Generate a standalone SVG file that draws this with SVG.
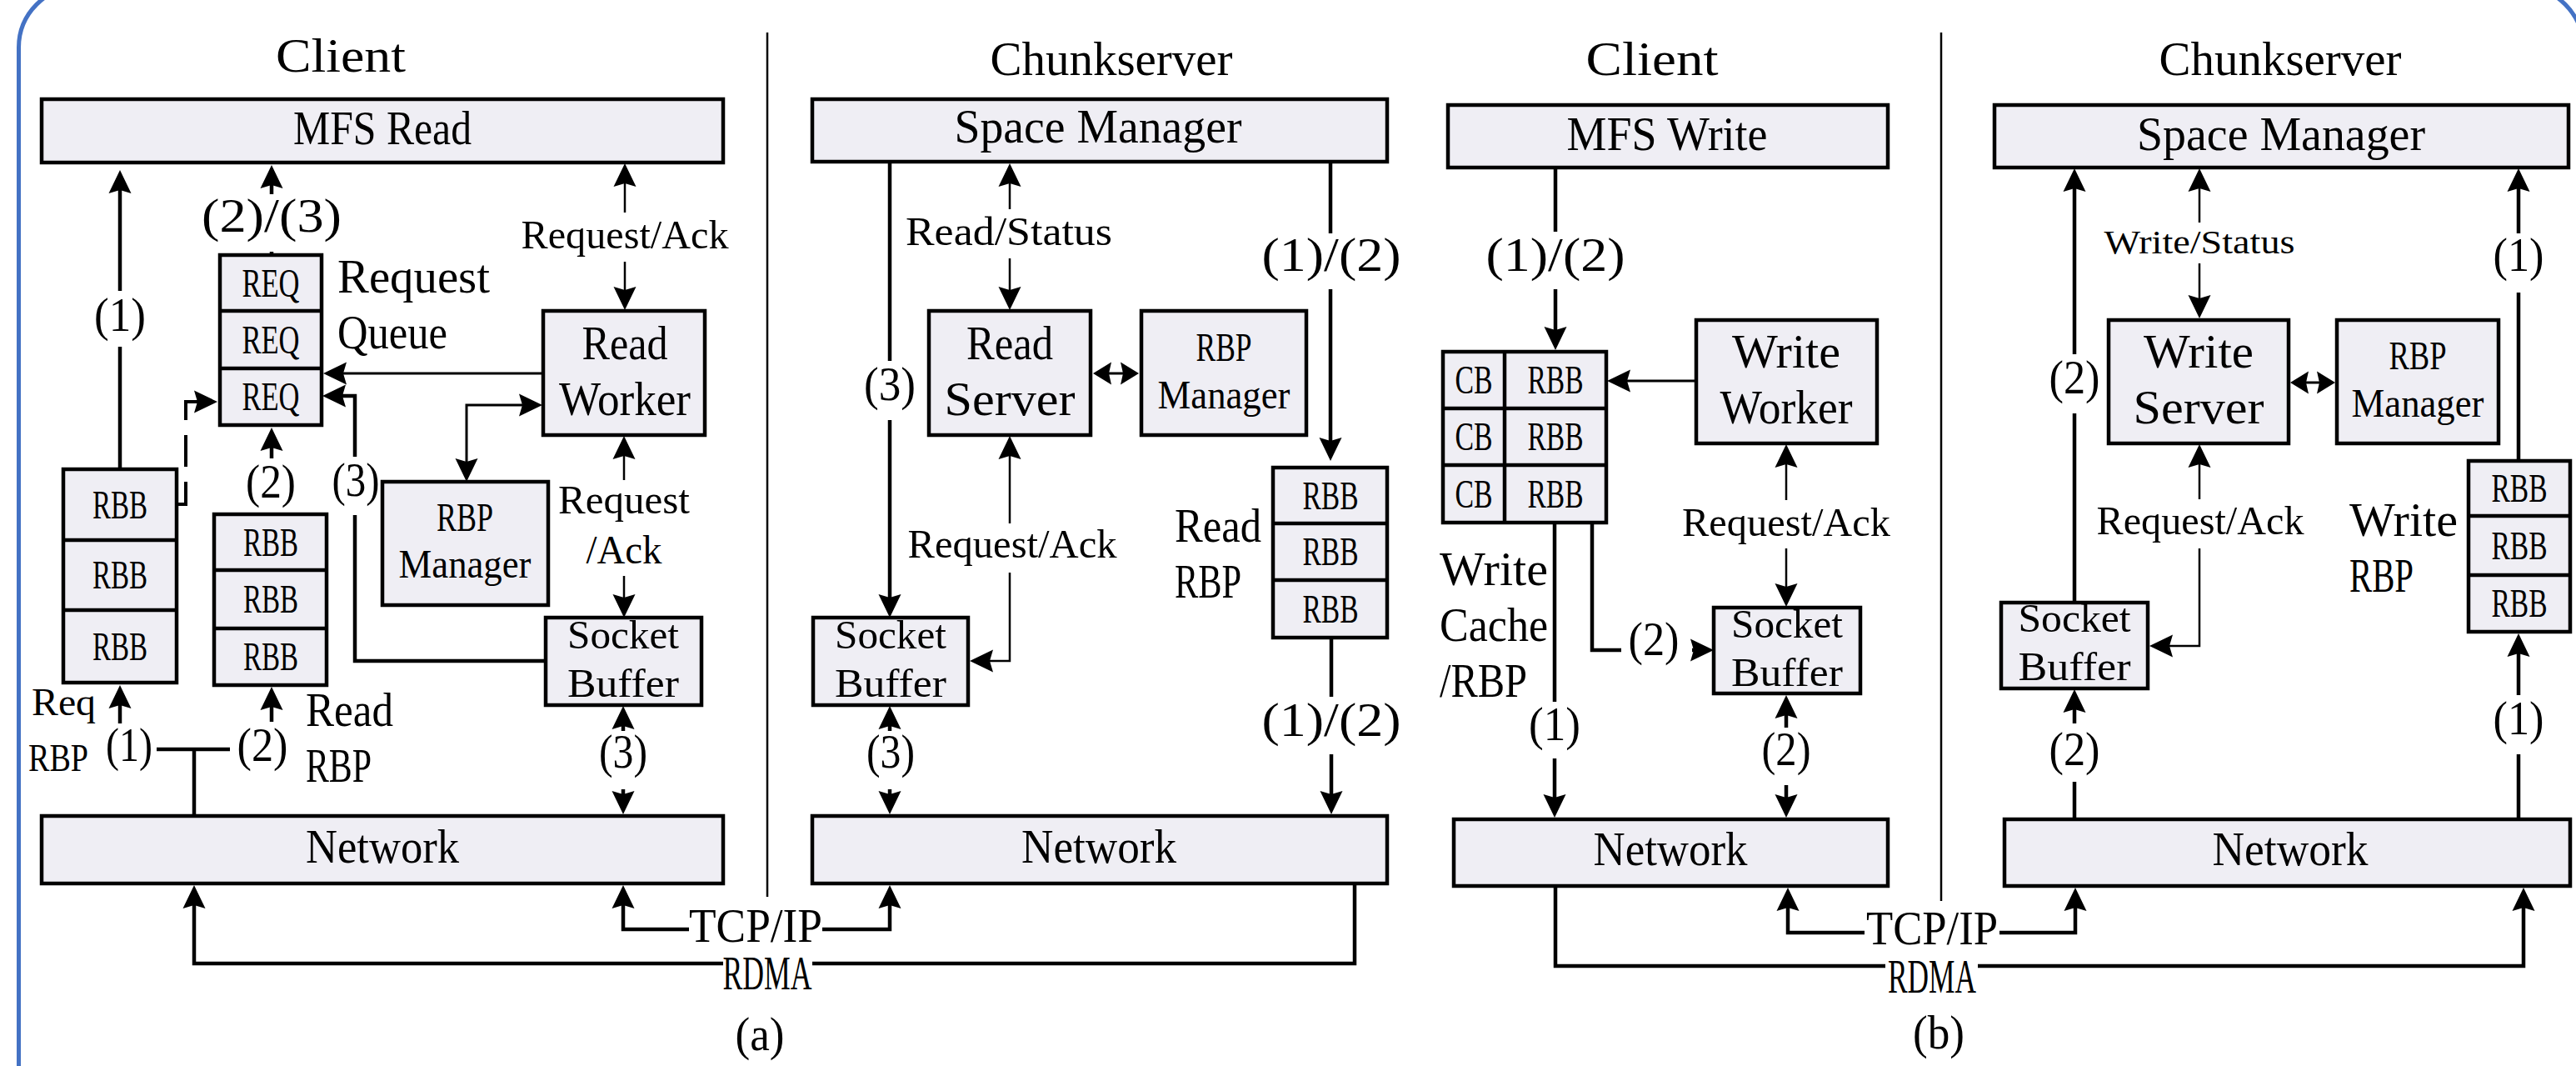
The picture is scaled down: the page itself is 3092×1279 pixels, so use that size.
<svg xmlns="http://www.w3.org/2000/svg" width="3092" height="1279" viewBox="0 0 3092 1279">
  <defs>
    <marker id="ah" viewBox="0 -15 30 30" markerWidth="30" markerHeight="30" refX="18" refY="0" orient="auto-start-reverse" markerUnits="userSpaceOnUse">
      <path d="M28,0 L0,-13.5 L4,0 L0,13.5 Z" fill="#000"/>
    </marker>
    <marker id="ahs" viewBox="0 -15 30 30" markerWidth="30" markerHeight="30" refX="12" refY="0" orient="auto-start-reverse" markerUnits="userSpaceOnUse">
      <path d="M22,0 L0,-13.5 L3,0 L0,13.5 Z" fill="#000"/>
    </marker>
    <style>
      text { font-family: "Liberation Serif", "Times New Roman", serif; fill: #000; }
      .c { text-anchor: middle; }
      .f56 { font-size: 56px; }
      .f48 { font-size: 48px; }
      .f46 { font-size: 46px; }
      .f40 { font-size: 40px; }
      .box { fill: #EFEEF4; stroke: #000; stroke-width: 4.5; stroke-linejoin: miter; }
      .div { stroke: #000; stroke-width: 4.5; }
      .thick { fill: none; stroke: #000; stroke-width: 4.5; }
      .thin { fill: none; stroke: #000; stroke-width: 2.5; }
      .mid { fill: none; stroke: #000; stroke-width: 3; }
      .dash { fill: none; stroke: #000; stroke-width: 4; stroke-dasharray: 38 18; }
      .sep { fill: none; stroke: #000; stroke-width: 2.5; }
      .arr { marker-end: url(#ah); }
      .arr2 { marker-start: url(#ah); marker-end: url(#ah); }
      .arr2s { marker-start: url(#ahs); marker-end: url(#ahs); }
      .arrs { marker-start: url(#ah); }
    </style>
  </defs>

  <rect width="3092" height="1279" fill="#FFFFFF"/>
  <!-- outer frame -->
  <rect x="22.5" y="-16" width="3078" height="1400" rx="73" fill="none" stroke="#4472C4" stroke-width="5"/>

  <!-- panel separators -->
  <path class="sep" d="M921,39 V1076"/>
  <path class="sep" d="M2330,39 V1081"/>

  <!-- ===== (a) read path: client side ===== -->
  <g id="title-client-a"><text class="c f56" x="409" y="86" textLength="156" lengthAdjust="spacingAndGlyphs">Client</text></g>

  <g id="mfs-read">
    <rect class="box" x="50" y="119" width="818" height="76"/>
    <text class="c f56" x="459" y="173" textLength="214" lengthAdjust="spacingAndGlyphs">MFS Read</text>
  </g>

  <g id="request-queue">
    <rect class="box" x="264" y="306" width="122" height="204"/>
    <path class="div" d="M264,373 H386 M264,442 H386"/>
    <text class="c f48" x="325" y="356" textLength="69" lengthAdjust="spacingAndGlyphs">REQ</text>
    <text class="c f48" x="325" y="424" textLength="69" lengthAdjust="spacingAndGlyphs">REQ</text>
    <text class="c f48" x="325" y="492" textLength="69" lengthAdjust="spacingAndGlyphs">REQ</text>
    <text class="f56" x="405" y="351" textLength="183" lengthAdjust="spacingAndGlyphs">Request</text>
    <text class="f56" x="405" y="418" textLength="132" lengthAdjust="spacingAndGlyphs">Queue</text>
  </g>

  <g id="read-worker">
    <rect class="box" x="652" y="373" width="194" height="149"/>
    <text class="c f56" x="750" y="431" textLength="103" lengthAdjust="spacingAndGlyphs">Read</text>
    <text class="c f56" x="750" y="498" textLength="158" lengthAdjust="spacingAndGlyphs">Worker</text>
  </g>

  <g id="rbp-manager-client">
    <rect class="box" x="459" y="578" width="199" height="148"/>
    <text class="c f48" x="558" y="637" textLength="68" lengthAdjust="spacingAndGlyphs">RBP</text>
    <text class="c f48" x="558" y="693" textLength="159" lengthAdjust="spacingAndGlyphs">Manager</text>
  </g>

  <g id="socket-buffer-client-a">
    <rect class="box" x="655" y="741" width="187" height="105"/>
    <text class="c f48" x="748" y="778" textLength="134" lengthAdjust="spacingAndGlyphs">Socket</text>
    <text class="c f48" x="748" y="836" textLength="134" lengthAdjust="spacingAndGlyphs">Buffer</text>
  </g>

  <g id="req-rbp">
    <rect class="box" x="76" y="563" width="136" height="256"/>
    <path class="div" d="M76,648 H212 M76,732 H212"/>
    <text class="c f48" x="144" y="622" textLength="66" lengthAdjust="spacingAndGlyphs">RBB</text>
    <text class="c f48" x="144" y="706" textLength="66" lengthAdjust="spacingAndGlyphs">RBB</text>
    <text class="c f48" x="144" y="792" textLength="66" lengthAdjust="spacingAndGlyphs">RBB</text>
    <text class="f46" x="38" y="858" textLength="77" lengthAdjust="spacingAndGlyphs">Req</text>
    <text class="f46" x="34" y="925" textLength="72" lengthAdjust="spacingAndGlyphs">RBP</text>
  </g>

  <g id="read-rbp-client">
    <rect class="box" x="257" y="617" width="135" height="205"/>
    <path class="div" d="M257,684 H392 M257,754 H392"/>
    <text class="c f48" x="325" y="667" textLength="66" lengthAdjust="spacingAndGlyphs">RBB</text>
    <text class="c f48" x="325" y="735" textLength="66" lengthAdjust="spacingAndGlyphs">RBB</text>
    <text class="c f48" x="325" y="804" textLength="66" lengthAdjust="spacingAndGlyphs">RBB</text>
    <text class="f56" x="367" y="871" textLength="105" lengthAdjust="spacingAndGlyphs">Read</text>
    <text class="f56" x="367" y="938" textLength="79" lengthAdjust="spacingAndGlyphs">RBP</text>
  </g>

  <g id="network-client-a">
    <rect class="box" x="50" y="979" width="818" height="81"/>
    <text class="c f56" x="459" y="1035" textLength="184" lengthAdjust="spacingAndGlyphs">Network</text>
  </g>

  <!-- ===== (a) read path: chunkserver side ===== -->
  <g id="title-chunkserver-a"><text class="c f56" x="1334" y="90" textLength="291" lengthAdjust="spacingAndGlyphs">Chunkserver</text></g>

  <g id="space-manager-a">
    <rect class="box" x="975" y="119" width="690" height="75"/>
    <text class="c f56" x="1318" y="171" textLength="345" lengthAdjust="spacingAndGlyphs">Space Manager</text>
  </g>

  <g id="read-server">
    <rect class="box" x="1115" y="373" width="194" height="149"/>
    <text class="c f56" x="1212" y="431" textLength="104" lengthAdjust="spacingAndGlyphs">Read</text>
    <text class="c f56" x="1212" y="498" textLength="157" lengthAdjust="spacingAndGlyphs">Server</text>
  </g>

  <g id="rbp-manager-chunk-a">
    <rect class="box" x="1370" y="373" width="198" height="149"/>
    <text class="c f48" x="1469" y="433" textLength="67" lengthAdjust="spacingAndGlyphs">RBP</text>
    <text class="c f48" x="1469" y="490" textLength="159" lengthAdjust="spacingAndGlyphs">Manager</text>
  </g>

  <g id="read-rbp-chunk">
    <rect class="box" x="1528" y="561" width="137" height="204"/>
    <path class="div" d="M1528,628 H1665 M1528,696 H1665"/>
    <text class="c f48" x="1597" y="611" textLength="67" lengthAdjust="spacingAndGlyphs">RBB</text>
    <text class="c f48" x="1597" y="678" textLength="67" lengthAdjust="spacingAndGlyphs">RBB</text>
    <text class="c f48" x="1597" y="747" textLength="67" lengthAdjust="spacingAndGlyphs">RBB</text>
    <text class="f56" x="1410" y="650" textLength="104" lengthAdjust="spacingAndGlyphs">Read</text>
    <text class="f56" x="1410" y="717" textLength="80" lengthAdjust="spacingAndGlyphs">RBP</text>
  </g>

  <g id="socket-buffer-chunk-a">
    <rect class="box" x="976" y="741" width="186" height="105"/>
    <text class="c f48" x="1069" y="778" textLength="134" lengthAdjust="spacingAndGlyphs">Socket</text>
    <text class="c f48" x="1069" y="836" textLength="134" lengthAdjust="spacingAndGlyphs">Buffer</text>
  </g>

  <g id="network-chunk-a">
    <rect class="box" x="975" y="979" width="690" height="81"/>
    <text class="c f56" x="1319" y="1035" textLength="186" lengthAdjust="spacingAndGlyphs">Network</text>
  </g>

  <!-- ===== (b) write path: client side ===== -->
  <g id="title-client-b"><text class="c f56" x="1983" y="90" textLength="159" lengthAdjust="spacingAndGlyphs">Client</text></g>

  <g id="mfs-write">
    <rect class="box" x="1738" y="126" width="528" height="75"/>
    <text class="c f56" x="2001" y="180" textLength="241" lengthAdjust="spacingAndGlyphs">MFS Write</text>
  </g>

  <g id="write-cache">
    <rect class="box" x="1732" y="422" width="196" height="205"/>
    <path class="div" d="M1806,422 V627 M1732,490 H1928 M1732,558 H1928"/>
    <text class="c f48" x="1769" y="472" textLength="45" lengthAdjust="spacingAndGlyphs">CB</text>
    <text class="c f48" x="1769" y="540" textLength="45" lengthAdjust="spacingAndGlyphs">CB</text>
    <text class="c f48" x="1769" y="609" textLength="45" lengthAdjust="spacingAndGlyphs">CB</text>
    <text class="c f48" x="1867" y="472" textLength="67" lengthAdjust="spacingAndGlyphs">RBB</text>
    <text class="c f48" x="1867" y="540" textLength="67" lengthAdjust="spacingAndGlyphs">RBB</text>
    <text class="c f48" x="1867" y="609" textLength="67" lengthAdjust="spacingAndGlyphs">RBB</text>
    <text class="f56" x="1728" y="702" textLength="130" lengthAdjust="spacingAndGlyphs">Write</text>
    <text class="f56" x="1728" y="769" textLength="130" lengthAdjust="spacingAndGlyphs">Cache</text>
    <text class="f56" x="1728" y="836" textLength="105" lengthAdjust="spacingAndGlyphs">/RBP</text>
  </g>

  <g id="write-worker">
    <rect class="box" x="2036" y="384" width="217" height="148"/>
    <text class="c f56" x="2144" y="441" textLength="130" lengthAdjust="spacingAndGlyphs">Write</text>
    <text class="c f56" x="2144" y="508" textLength="159" lengthAdjust="spacingAndGlyphs">Worker</text>
  </g>

  <g id="socket-buffer-client-b">
    <rect class="box" x="2057" y="729" width="176" height="103"/>
    <text class="c f48" x="2145" y="765" textLength="134" lengthAdjust="spacingAndGlyphs">Socket</text>
    <text class="c f48" x="2145" y="823" textLength="134" lengthAdjust="spacingAndGlyphs">Buffer</text>
  </g>

  <g id="network-client-b">
    <rect class="box" x="1745" y="983" width="521" height="80"/>
    <text class="c f56" x="2005" y="1038" textLength="185" lengthAdjust="spacingAndGlyphs">Network</text>
  </g>

  <!-- ===== (b) write path: chunkserver side ===== -->
  <g id="title-chunkserver-b"><text class="c f56" x="2737" y="90" textLength="291" lengthAdjust="spacingAndGlyphs">Chunkserver</text></g>

  <g id="space-manager-b">
    <rect class="box" x="2394" y="126" width="689" height="75"/>
    <text class="c f56" x="2738" y="180" textLength="346" lengthAdjust="spacingAndGlyphs">Space Manager</text>
  </g>

  <g id="write-server">
    <rect class="box" x="2531" y="384" width="216" height="148"/>
    <text class="c f56" x="2639" y="441" textLength="132" lengthAdjust="spacingAndGlyphs">Write</text>
    <text class="c f56" x="2639" y="508" textLength="157" lengthAdjust="spacingAndGlyphs">Server</text>
  </g>

  <g id="rbp-manager-chunk-b">
    <rect class="box" x="2805" y="384" width="194" height="148"/>
    <text class="c f48" x="2902" y="443" textLength="69" lengthAdjust="spacingAndGlyphs">RBP</text>
    <text class="c f48" x="2902" y="500" textLength="159" lengthAdjust="spacingAndGlyphs">Manager</text>
  </g>

  <g id="write-rbp">
    <rect class="box" x="2963" y="553" width="122" height="205"/>
    <path class="div" d="M2963,619 H3085 M2963,690 H3085"/>
    <text class="c f48" x="3024" y="602" textLength="67" lengthAdjust="spacingAndGlyphs">RBB</text>
    <text class="c f48" x="3024" y="671" textLength="67" lengthAdjust="spacingAndGlyphs">RBB</text>
    <text class="c f48" x="3024" y="740" textLength="67" lengthAdjust="spacingAndGlyphs">RBB</text>
    <text class="f56" x="2820" y="643" textLength="130" lengthAdjust="spacingAndGlyphs">Write</text>
    <text class="f56" x="2820" y="710" textLength="77" lengthAdjust="spacingAndGlyphs">RBP</text>
  </g>

  <g id="socket-buffer-chunk-b">
    <rect class="box" x="2402" y="723" width="176" height="103"/>
    <text class="c f48" x="2490" y="758" textLength="135" lengthAdjust="spacingAndGlyphs">Socket</text>
    <text class="c f48" x="2490" y="816" textLength="135" lengthAdjust="spacingAndGlyphs">Buffer</text>
  </g>

  <g id="network-chunk-b">
    <rect class="box" x="2406" y="983" width="679" height="80"/>
    <text class="c f56" x="2749" y="1038" textLength="187" lengthAdjust="spacingAndGlyphs">Network</text>
  </g>

  <!-- ===== connectors ===== -->
  <g id="connectors">
    <!-- (a) client -->
    <path class="thick" d="M144,563 V416"/>
    <path class="thick arr" d="M144,349 V214"/>
    <path class="thick" d="M326,306 V302"/>
    <path class="thick arr" d="M326,233 V208"/>
    <path class="thick arr" d="M326,550 V523"/>
    <path class="thick" d="M655,793 H426 V618"/>
    <path class="thick arr" d="M426,548 V475 H397"/>
    <path class="mid arr" d="M652,448 H398"/>
    <path class="mid arr2" d="M641,486 H560 V568"/>
    <path class="dash arr" d="M212,605 H223 V482 H251"/>
    <path class="thin arr" d="M750,255 V206"/>
    <path class="thin arr" d="M750,314 V362"/>
    <path class="thin arr" d="M749,576 V533"/>
    <path class="thin arr" d="M749,691 V731"/>
    <path class="thick arrs" d="M748,857 V877"/>
    <path class="thick arr" d="M748,947 V967"/>
    <path class="thick arr" d="M144,868 V832"/>
    <path class="thick" d="M188,899 H276 M233,899 V979"/>
    <path class="thick arr" d="M326,866 V834"/>
    <path class="thick arr" d="M868,1156 H233 V1072"/>
    <path class="thick arr" d="M827,1115 H748 V1072"/>

    <!-- (a) chunkserver -->
    <path class="thick" d="M1068,194 V433"/>
    <path class="thick arr" d="M1068,504 V731"/>
    <path class="thin arr" d="M1212,251 V206"/>
    <path class="thin arr" d="M1212,310 V362"/>
    <path class="mid arr2s" d="M1322,448 H1357"/>
    <path class="thick" d="M1597,194 V280"/>
    <path class="thick arr" d="M1597,347 V543"/>
    <path class="thick" d="M1598,765 V836"/>
    <path class="thick arr" d="M1598,905 V967"/>
    <path class="thin arr" d="M1212,628 V533"/>
    <path class="thin arr" d="M1212,687 V793 H1174"/>
    <path class="thick arrs" d="M1068,857 V877"/>
    <path class="thick arr" d="M1068,947 V967"/>
    <path class="thick arr" d="M987,1115 H1068 V1072"/>
    <path class="thick" d="M975,1156 H1626 V1060"/>

    <!-- (b) client -->
    <path class="thick" d="M1867,201 V278"/>
    <path class="thick arr" d="M1867,347 V410"/>
    <path class="mid arr" d="M2036,457 H1939"/>
    <path class="thin arr" d="M2144,600 V543"/>
    <path class="thin arr" d="M2144,658 V718"/>
    <path class="thick" d="M1866,627 V842"/>
    <path class="thick arr" d="M1866,910 V971"/>
    <path class="thick" d="M1911,627 V780 H1946"/>
    <path class="thick arr" d="M2031,780 H2047"/>
    <path class="thick arr" d="M2144,873 V844"/>
    <path class="thick arr" d="M2144,942 V971"/>
    <path class="thick arr" d="M2238,1119 H2146 V1075"/>
    <path class="thick" d="M1867,1063 V1159 H2263"/>

    <!-- (b) chunkserver -->
    <path class="thick" d="M2490,723 V496"/>
    <path class="thick arr" d="M2490,425 V212"/>
    <path class="thin arr" d="M2640,267 V212"/>
    <path class="thin arr" d="M2640,316 V372"/>
    <path class="mid arr2s" d="M2759,459 H2793"/>
    <path class="thick" d="M3023,553 V351"/>
    <path class="thick arr" d="M3023,280 V212"/>
    <path class="thin arr" d="M2640,599 V543"/>
    <path class="thin arr" d="M2640,658 V775 H2590"/>
    <path class="thick" d="M2490,983 V938"/>
    <path class="thick arr" d="M2490,868 V837"/>
    <path class="thick" d="M3023,983 V905"/>
    <path class="thick arr" d="M3023,834 V770"/>
    <path class="thick arr" d="M2400,1119 H2491 V1075"/>
    <path class="thick arr" d="M2374,1159 H3029 V1075"/>
  </g>

  <!-- connector labels -->
  <g id="connector-labels">
    <text class="c f56" x="144" y="397" textLength="62" lengthAdjust="spacingAndGlyphs">(1)</text>
    <text class="c f56" x="326" y="278" textLength="168" lengthAdjust="spacingAndGlyphs">(2)/(3)</text>
    <text class="c f56" x="325" y="597" textLength="60" lengthAdjust="spacingAndGlyphs">(2)</text>
    <text class="c f56" x="427" y="595" textLength="57" lengthAdjust="spacingAndGlyphs">(3)</text>
    <text class="c f48" x="750" y="298" textLength="249" lengthAdjust="spacingAndGlyphs">Request/Ack</text>
    <text class="c f48" x="749" y="616" textLength="158" lengthAdjust="spacingAndGlyphs">Request</text>
    <text class="c f48" x="749" y="676" textLength="91" lengthAdjust="spacingAndGlyphs">/Ack</text>
    <text class="c f56" x="748" y="921" textLength="58" lengthAdjust="spacingAndGlyphs">(3)</text>
    <text class="c f56" x="155" y="913" textLength="56" lengthAdjust="spacingAndGlyphs">(1)</text>
    <text class="c f56" x="315" y="913" textLength="61" lengthAdjust="spacingAndGlyphs">(2)</text>
    <text class="c f56" x="907" y="1130" textLength="160" lengthAdjust="spacingAndGlyphs">TCP/IP</text>
    <text class="c f56" x="921" y="1187" textLength="107" lengthAdjust="spacingAndGlyphs">RDMA</text>
    <text class="c f56" x="912" y="1260" textLength="59" lengthAdjust="spacingAndGlyphs">(a)</text>

    <text class="c f56" x="1068" y="480" textLength="62" lengthAdjust="spacingAndGlyphs">(3)</text>
    <text class="c f48" x="1211" y="294" textLength="248" lengthAdjust="spacingAndGlyphs">Read/Status</text>
    <text class="c f56" x="1598" y="325" textLength="167" lengthAdjust="spacingAndGlyphs">(1)/(2)</text>
    <text class="c f56" x="1598" y="883" textLength="167" lengthAdjust="spacingAndGlyphs">(1)/(2)</text>
    <text class="c f48" x="1215" y="669" textLength="251" lengthAdjust="spacingAndGlyphs">Request/Ack</text>
    <text class="c f56" x="1069" y="921" textLength="58" lengthAdjust="spacingAndGlyphs">(3)</text>

    <text class="c f56" x="1867" y="325" textLength="167" lengthAdjust="spacingAndGlyphs">(1)/(2)</text>
    <text class="c f48" x="2144" y="643" textLength="250" lengthAdjust="spacingAndGlyphs">Request/Ack</text>
    <text class="c f56" x="1866" y="888" textLength="62" lengthAdjust="spacingAndGlyphs">(1)</text>
    <text class="c f56" x="1985" y="786" textLength="61" lengthAdjust="spacingAndGlyphs">(2)</text>
    <text class="c f56" x="2144" y="918" textLength="59" lengthAdjust="spacingAndGlyphs">(2)</text>
    <text class="c f56" x="2319" y="1133" textLength="158" lengthAdjust="spacingAndGlyphs">TCP/IP</text>
    <text class="c f56" x="2319" y="1191" textLength="106" lengthAdjust="spacingAndGlyphs">RDMA</text>
    <text class="c f56" x="2327" y="1258" textLength="62" lengthAdjust="spacingAndGlyphs">(b)</text>

    <text class="c f56" x="2490" y="472" textLength="61" lengthAdjust="spacingAndGlyphs">(2)</text>
    <text class="c f40" x="2640" y="304" textLength="229" lengthAdjust="spacingAndGlyphs">Write/Status</text>
    <text class="c f56" x="3023" y="325" textLength="61" lengthAdjust="spacingAndGlyphs">(1)</text>
    <text class="c f48" x="2641" y="641" textLength="249" lengthAdjust="spacingAndGlyphs">Request/Ack</text>
    <text class="c f56" x="2490" y="918" textLength="61" lengthAdjust="spacingAndGlyphs">(2)</text>
    <text class="c f56" x="3023" y="881" textLength="61" lengthAdjust="spacingAndGlyphs">(1)</text>
  </g>
</svg>
